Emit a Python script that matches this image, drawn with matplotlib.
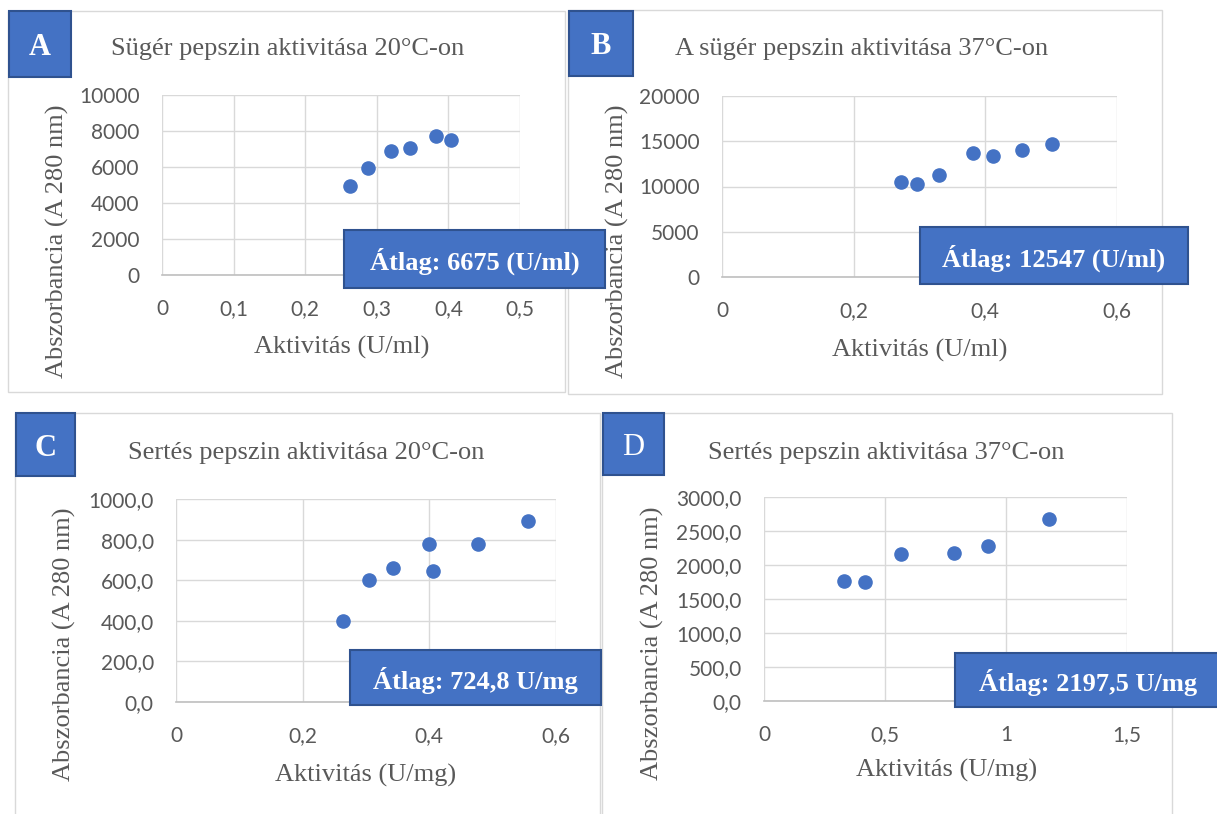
import matplotlib
matplotlib.use("Agg")
import matplotlib.pyplot as plt
from matplotlib.patches import Rectangle
from matplotlib.ticker import FuncFormatter, MultipleLocator

W, H = 1217, 814

a_x = [0.262, 0.288, 0.320, 0.346, 0.383, 0.404]
a_y = [4950, 5950, 6900, 7050, 7700, 7500]
b_x = [0.272, 0.296, 0.329, 0.382, 0.412, 0.455, 0.501]
b_y = [10550, 10330, 11240, 13650, 13320, 14050, 14670]
c_x = [0.263, 0.304, 0.343, 0.399, 0.405, 0.477, 0.556]
c_y = [401, 601, 662, 776, 646, 779, 894]
d_x = [0.331, 0.418, 0.567, 0.785, 0.925, 1.179]
d_y = [1762, 1747, 2158, 2173, 2276, 2672]

titles = ["Sügér pepszin aktivitása 20°C-on",
          "A sügér pepszin aktivitása 37°C-on",
          "Sertés pepszin aktivitása 20°C-on",
          "Sertés pepszin aktivitása 37°C-on"]
letters = ["A", "B", "C", "D"]
means = ["Átlag: 6675 (U/ml)", "Átlag: 12547 (U/ml)",
         "Átlag: 724,8 U/mg", "Átlag: 2197,5 U/mg"]
xlabels = ["Aktivitás (U/ml)", "Aktivitás (U/ml)",
           "Aktivitás (U/mg)", "Aktivitás (U/mg)"]
ylabel = "Abszorbancia (A 280 nm)"

BLUE = "#4472C4"
DARK = "#2F528F"
GRID = "#D9D9D9"
TXT = "#595959"
SERIF = "Liberation Serif"


def fx(x):
    return x / W


def fy(y):
    return 1 - y / H


def rect(x0, y0, x1, y1, **kw):
    r = Rectangle((fx(x0), fy(y1)), fx(x1) - fx(x0), fy(y0) - fy(y1),
                  transform=fig.transFigure, **kw)
    fig.add_artist(r)


def comma(v, pos):
    return f"{v:g}".replace(".", ",")


def comma1(v, pos):
    return f"{v:.1f}".replace(".", ",")


fig = plt.figure(figsize=(W / 100, H / 100), dpi=100)

# pixel boxes: plot area, panel border, letter box, title/xlabel/ylabel anchors, mean box
panels = [
    dict(x=a_x, y=a_y, plot=(162, 95, 520, 275), border=(8, 11, 565, 392),
         lbox=(9, 11, 71, 77), bold=True, title=(111, 47), xl=(342, 345), yl=(57, 241),
         mbox=(344, 230, 605, 288), xlim=0.5, xstep=0.1, ylim=10000, ystep=2000, yfmt=None),
    dict(x=b_x, y=b_y, plot=(722, 96, 1117, 277), border=(568, 10, 1162, 394),
         lbox=(569, 11, 633, 76), bold=True, title=(675, 47), xl=(920, 348), yl=(617, 241),
         mbox=(920, 227, 1188, 284), xlim=0.6, xstep=0.2, ylim=20000, ystep=5000, yfmt=None),
    dict(x=c_x, y=c_y, plot=(176, 499, 556, 702), border=(15, 413, 600, 830),
         lbox=(16, 413, 75, 476), bold=True, title=(128, 451), xl=(366, 773), yl=(64, 644),
         mbox=(350, 650, 601, 705), xlim=0.6, xstep=0.2, ylim=1000, ystep=200, yfmt=comma1),
    dict(x=d_x, y=d_y, plot=(764, 497, 1127, 701), border=(602, 413, 1172, 830),
         lbox=(603, 413, 664, 475), bold=False, title=(708, 451), xl=(947, 768), yl=(652, 643),
         mbox=(955, 653, 1221, 707), xlim=1.5, xstep=0.5, ylim=3000, ystep=500, yfmt=comma1),
]

for p in panels:
    bx0, by0, bx1, by1 = p["border"]
    rect(bx0, by0, bx1, by1, facecolor="white", edgecolor=GRID, lw=1.0, zorder=-5)

for i, p in enumerate(panels):
    x0, y0, x1, y1 = p["plot"]
    ax = fig.add_axes([fx(x0), fy(y1), fx(x1) - fx(x0), fy(y0) - fy(y1)])
    ax.scatter(p["x"], p["y"], s=90, color=BLUE, zorder=3, clip_on=False)
    ax.set_xlim(0, p["xlim"])
    ax.set_ylim(0, p["ylim"])
    ax.xaxis.set_major_locator(MultipleLocator(p["xstep"]))
    ax.yaxis.set_major_locator(MultipleLocator(p["ystep"]))
    ax.xaxis.set_major_formatter(FuncFormatter(comma))
    ax.yaxis.set_major_formatter(FuncFormatter(p["yfmt"] or comma))
    ax.grid(True, color=GRID, lw=1.0, zorder=0)
    ax.set_axisbelow(True)
    for side in ["top", "right", "left"]:
        ax.spines[side].set_visible(False)
    ax.spines["bottom"].set_color("#BFBFBF")
    ax.spines["bottom"].set_linewidth(1.2)
    ax.tick_params(length=0, labelsize=15, labelcolor=TXT)
    ax.tick_params(axis="x", pad=17)
    ax.tick_params(axis="y", pad=16)
    for lab in ax.get_xticklabels() + ax.get_yticklabels():
        lab.set_fontfamily("Lato")

    tx, ty = p["title"]
    fig.text(fx(tx), fy(ty), titles[i], family=SERIF, fontsize=19, color=TXT,
             ha="left", va="center_baseline")
    lx, ly = p["xl"]
    fig.text(fx(lx), fy(ly), xlabels[i], family=SERIF, fontsize=19, color=TXT,
             ha="center", va="center_baseline")
    yx, yy = p["yl"]
    fig.text(fx(yx), fy(yy), ylabel, family=SERIF, fontsize=19, color=TXT,
             ha="center", va="center", rotation=90)

    # letter box
    l0, m0, l1, m1 = p["lbox"]
    rect(l0, m0, l1, m1, facecolor=BLUE, edgecolor=DARK, lw=1.5, zorder=5)
    fig.text(fx((l0 + l1) / 2), fy((m0 + m1) / 2), letters[i], family=SERIF,
             fontsize=22, color="white", weight="bold" if p["bold"] else "normal",
             ha="center", va="center_baseline", zorder=6)

    # mean box
    q0, r0, q1, r1 = p["mbox"]
    rect(q0, r0, q1, r1, facecolor=BLUE, edgecolor=DARK, lw=1.5, zorder=5)
    fig.text(fx((q0 + q1) / 2), fy((r0 + r1) / 2), means[i], family=SERIF,
             fontsize=19, color="white", weight="bold",
             ha="center", va="center_baseline", zorder=6)

fig.savefig("out.png", dpi=100, facecolor="white")
